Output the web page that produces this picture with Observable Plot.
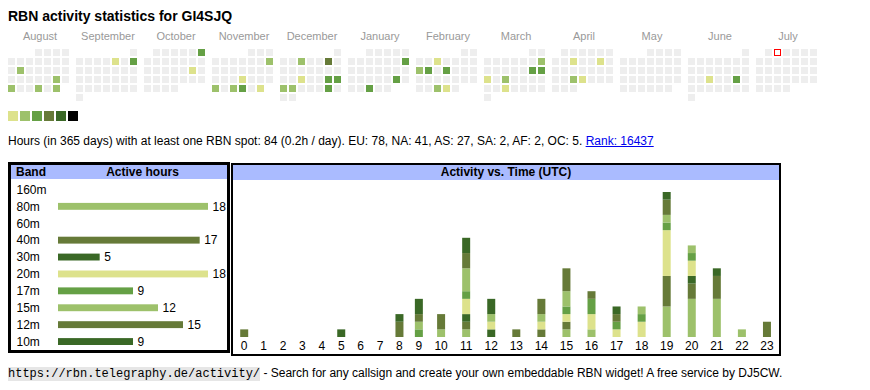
<!DOCTYPE html>
<html><head><meta charset="utf-8">
<script src="https://cdn.jsdelivr.net/npm/d3@7"></script>
<script src="https://cdn.jsdelivr.net/npm/@observablehq/plot@0.6"></script>
<style>
html,body{margin:0;padding:0;background:#fff;}
body{width:870px;height:390px;position:relative;overflow:hidden;font-family:"Liberation Sans",Arial,Helvetica,sans-serif;font-size:12px;color:#000;}
.abs{position:absolute;}
#title{left:8px;top:8px;font-weight:bold;font-size:14px;line-height:16px;white-space:nowrap;}
#cal{left:0;top:24px;}
#legend{left:0;top:111px;}
#info{left:8px;top:134px;line-height:14px;white-space:nowrap;}
#info a{color:#0000ee;text-decoration:underline;}
#bandbox{left:8px;top:162px;width:222px;height:191px;border:3px solid #000;box-sizing:border-box;}
#timebox{left:231px;top:163px;width:550px;height:193px;border:2px solid #000;box-sizing:border-box;}
.hdr{background:#aabbff;font-weight:bold;display:flex;white-space:nowrap;}
#bandbox .hdr{height:14px;line-height:14px;}
#bandbox .hdr .c1{width:42px;padding-left:5px;}
#bandbox .hdr .c2{flex:1;text-align:center;}
#timebox .hdr{height:15px;line-height:15px;justify-content:center;}
#footer{left:8px;top:366px;line-height:14px;white-space:nowrap;}
#footer code{font-family:"Liberation Mono","Courier New",monospace;font-size:12px;background:#e6e6e6;}
svg{display:block;}
</style></head>
<body>
<div id="title" class="abs"></div>
<div id="cal" class="abs"></div>
<div id="legend" class="abs"></div>
<div id="info" class="abs"></div>
<div id="bandbox" class="abs"><div class="hdr"><span class="c1">Band</span><span class="c2">Active hours</span></div><div id="bandplot"></div></div>
<div id="timebox" class="abs"><div class="hdr"><span>Activity vs. Time (UTC)</span></div><div id="timeplot"></div></div>
<div id="footer" class="abs"><code>https://rbn.telegraphy.de/activity/</code> - Search for any callsign and create your own embeddable RBN widget! A free service by DJ5CW.</div>
<script>
// ---- data ----
const callsign = "GI4SJQ";
const months = ["2024-08","2024-09","2024-10","2024-11","2024-12","2025-01","2025-02","2025-03","2025-04","2025-05","2025-06","2025-07"];
const monthNames = ["August","September","October","November","December","January","February","March","April","May","June","July"];
const activeDates = [
  "2024-08-13","2024-08-24","2024-08-26","2024-08-29","2024-08-31",
  "2024-09-06","2024-09-08",
  "2024-10-06","2024-10-19",
  "2024-11-10","2024-11-21","2024-11-25","2024-11-27","2024-11-28","2024-11-30",
  "2024-12-04","2024-12-07","2024-12-18","2024-12-21","2024-12-22","2024-12-23","2024-12-24","2024-12-28",
  "2025-01-12","2025-01-25","2025-01-29",
  "2025-02-05","2025-02-10","2025-02-11","2025-02-13","2025-02-26","2025-02-27",
  "2025-03-09","2025-03-15","2025-03-16","2025-03-17","2025-03-19","2025-03-26",
  "2025-04-09","2025-04-12","2025-04-23","2025-04-24",
  "2025-06-18","2025-06-21"
];
const activeLevels = [
  2,2,2,2,2,
  1,3,
  3,1,
  2,1,2,2,3,1,
  2,4,1,3,3,2,2,3,
  3,3,3,
  1,2,3,3,2,1,
  2,3,3,1,2,1,
  1,1,2,1,
  1,3
];
const today = "2025-07-02";
const levels = [0,1,2,3,4,5,6];
const legendLevels = [1,2,3,4,5,6];
const levelColors = ["#eeeeee","#dde28c","#9dc16b","#65a045","#667a38","#3a6826","#000000"];

const totalHours = 84, perDay = "0.2", rank = 16437;
const continents = ["EU","NA","AS","SA","AF","OC"];
const continentHours = [78,41,27,2,2,5];

const bands = ["160m","80m","60m","40m","30m","20m","17m","15m","12m","10m"];
const bandHours = [0,18,0,17,5,18,9,12,15,9];
const bandColors = ["#dde28c","#9dc16b","#65a045","#667a38","#3a6826","#dde28c","#65a045","#9dc16b","#667a38","#3a6826"];

const hoursOfDay = [0,1,2,3,4,5,6,7,8,9,10,11,12,13,14,15,16,17,18,19,20,21,22,23];
const h160 = [0,0,0,0,0,0,0,0,0,0,0,0,0,0,0,0,0,0,0,0,0,0,0,0];
const h80  = [0,0,0,0,0,0,0,0,0,0,0,1,0,0,0,1,1,0,0,4,5,5,1,0];
const h60  = [0,0,0,0,0,0,0,0,0,0,0,0,0,0,0,0,0,0,0,0,0,0,0,0];
const h40  = [1,0,0,0,0,0,0,0,2,0,0,1,0,0,1,1,0,0,0,4,2,3,0,2];
const h30  = [0,0,0,0,0,1,0,0,1,0,0,1,1,0,0,0,0,0,0,0,1,0,0,0];
const h20  = [0,0,0,0,0,0,0,0,0,0,0,2,1,0,1,1,2,1,2,6,2,0,0,0];
const h17  = [0,0,0,0,0,0,0,0,0,1,0,1,0,0,0,1,2,1,1,1,1,0,0,0];
const h15  = [0,0,0,0,0,0,0,0,0,1,1,3,1,0,1,2,0,0,1,1,1,0,0,0];
const h12  = [0,0,0,0,0,0,0,0,0,1,2,2,0,1,2,3,1,1,0,2,0,0,0,0];
const h10  = [0,0,0,0,0,0,0,0,0,2,0,2,2,0,0,0,0,1,0,1,0,1,0,0];
const bandByHour = [h160,h80,h60,h40,h30,h20,h17,h15,h12,h10];

// ---- text ----
document.getElementById("title").textContent = "RBN activity statistics for " + callsign;
const info = document.getElementById("info");
info.append(`Hours (in 365 days) with at least one RBN spot: ${totalHours} (${perDay}h / day). ` +
  continents.map((c,i) => `${c}: ${continentHours[i]}`).join(", ") + ". ");
const a = document.createElement("a"); a.href = "#"; a.textContent = "Rank: " + rank; info.append(a);

const style = {fontFamily: "'Liberation Sans', Arial, sans-serif", fontSize: "12px", color: "#000", background: "none", overflow: "visible"};

// ---- calendar ----
const fmtDay = d3.utcFormat("%Y-%m-%d"), fmtMonth = d3.utcFormat("%Y-%m");
const levelByDate = new Map(activeDates.map((d, i) => [d, activeLevels[i]]));
const days = d3.utcDay.range(new Date(Date.UTC(2024,7,1)), new Date(Date.UTC(2025,7,1))).map(date => {
  const first = new Date(Date.UTC(date.getUTCFullYear(), date.getUTCMonth(), 1));
  const firstDow = (first.getUTCDay() + 6) % 7;
  const key = fmtDay(date);
  return {key, month: fmtMonth(date), dow: (date.getUTCDay() + 6) % 7,
          week: Math.floor((date.getUTCDate() - 1 + firstDow) / 7), level: levelByDate.get(key) ?? 0};
});

document.getElementById("cal").append(Plot.plot({
  width: 870, height: 79, marginLeft: 8, marginRight: 51, marginTop: 25, marginBottom: 0,
  style,
  fx: {domain: months, paddingInner: 5/68, paddingOuter: 0, label: null, round: false},
  x: {type: "band", domain: [0,1,2,3,4,5,6], padding: 0, axis: null, round: false},
  y: {type: "band", domain: [0,1,2,3,4,5], padding: 0, axis: null, round: false},
  color: {type: "ordinal", domain: levels, range: levelColors},
  marks: [
    Plot.axisFx({anchor: "top", tickSize: 0, tickPadding: 10, label: null, color: "#999", fill: "#999", fontSize: 11,
                 tickFormat: d => monthNames[months.indexOf(d)]}),
    Plot.cell(days, {fx: "month", x: "dow", y: "week", fill: "level", insetLeft: 0, insetTop: 0, insetRight: 2, insetBottom: 2}),
    Plot.cell(days.filter(d => d.key === today), {fx: "month", x: "dow", y: "week", fill: "#fff", stroke: "#ff0000",
                 insetLeft: 0.5, insetTop: 0.5, insetRight: 2.5, insetBottom: 2.5})
  ]
}));

// ---- legend ----
document.getElementById("legend").append(Plot.plot({
  width: 80, height: 10, marginLeft: 8, marginRight: 0, marginTop: 0, marginBottom: 0,
  style,
  x: {type: "band", domain: legendLevels, padding: 0, axis: null, round: false},
  color: {type: "ordinal", domain: levels, range: levelColors},
  marks: [Plot.cell(legendLevels, {x: d => d, fill: d => d, insetLeft: 0, insetRight: 2})]
}));

// ---- band table ----
const bandRows = bands.map((b, i) => ({band: b, hours: bandHours[i]}));
document.getElementById("bandplot").append(Plot.plot({
  width: 216, height: 171, marginLeft: 47, marginRight: 19, marginTop: 2, marginBottom: 0,
  style,
  x: {domain: [0, 18], axis: null},
  y: {domain: bands, padding: 0, label: null, round: false},
  color: {domain: bands, range: bandColors},
  marks: [
    Plot.axisY({anchor: "left", tickSize: 0, tickPadding: 42, textAnchor: "start", label: null, fill: "#000"}),
    Plot.barX(bandRows, {x: "hours", y: "band", fill: "band", insetTop: 5, insetBottom: 5}),
    Plot.text(bandRows.filter(d => d.hours > 0), {x: "hours", y: "band", text: d => String(d.hours), dx: 4, textAnchor: "start", fill: "#000"})
  ]
}));

// ---- activity vs time ----
// hour columns sized like table cells: width grows with the label's digit count
const digitWidth = 6.67, cellPadding = 16.2;
let acc = 0;
const hourCols = hoursOfDay.map(h => {
  const label = String(h);
  const w = label.length * digitWidth + cellPadding;
  const center = acc + w / 2;
  acc += w;
  return {hour: h, label, center};
});
const timeData = [];
hourCols.forEach((col, i) => bands.forEach((b, j) => {
  const v = bandByHour[j][i];
  if (v > 0) timeData.push({hour: col.hour, center: col.center, band: b, count: v});
}));
document.getElementById("timeplot").append(Plot.plot({
  width: 546, height: 174, marginLeft: 1, marginRight: 0, marginTop: 12, marginBottom: 17,
  style,
  x: {domain: [0, acc], axis: null},
  y: {domain: [0, 19], axis: null},
  color: {domain: bands, range: bandColors},
  marks: [
    Plot.ruleX(timeData, Plot.stackY({x: "center", y: "count", stroke: "band", strokeWidth: 8})),
    Plot.text(hourCols, {x: "center", text: "label", frameAnchor: "bottom", lineAnchor: "top", dy: 4, fill: "#000"})
  ]
}));
</script>
</body></html>
